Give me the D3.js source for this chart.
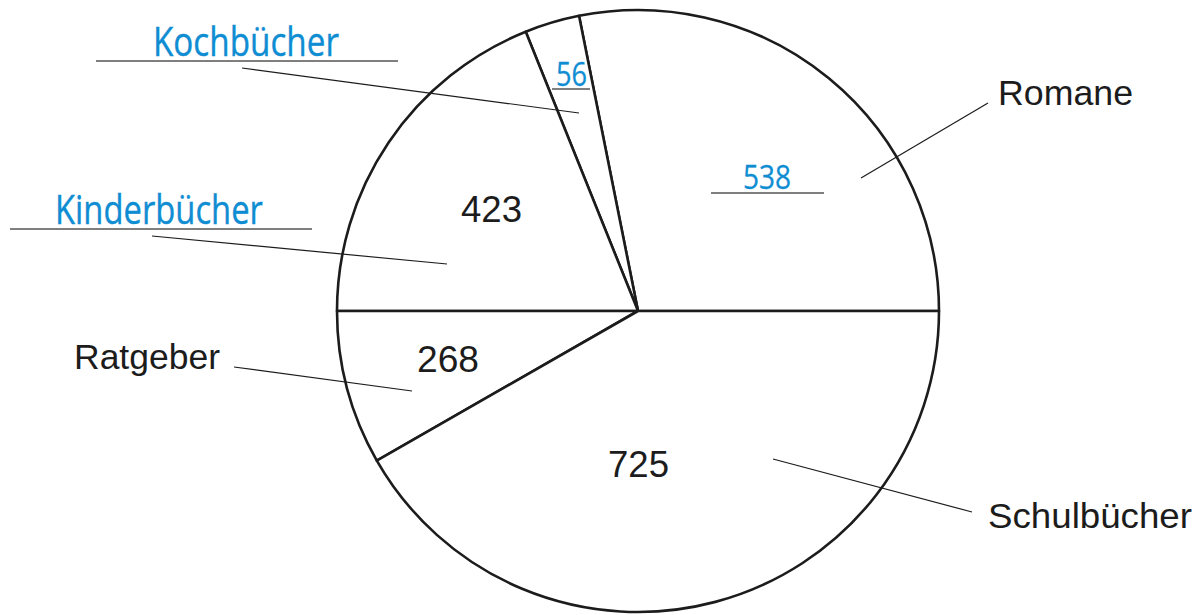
<!DOCTYPE html>
<html>
<head>
<meta charset="utf-8">
<script src="https://cdn.jsdelivr.net/npm/d3@7"></script>
<style>
  html, body { margin: 0; padding: 0; background: #fff; }
  svg { display: block; }
</style>
</head>
<body>
<div id="chart"></div>
<script>
// book categories, counter-clockwise from 3 o'clock
const categories = ["Romane", "Kochbücher", "Kinderbücher", "Ratgeber", "Schulbücher"];
const counts = [538, 56, 423, 268, 725];
// the slices in the picture are not drawn to scale, so the sweep (degrees) is read off the drawing
const sliceDegrees = [101.3, 10.6, 68.1, 29.8, 150.2];
// which texts are the "filled in" answers (blue, underlined)
const nameFilled = [false, true, true, false, false];
const countFilled = [true, true, false, false, false];

const width = 1202, height = 615;
const cx = 638, cy = 311, radius = 301;

const blue = "#0f8dd3";
const ink = "#1c1c1c";

// label layout (annotation positions, pixels)
const nameLayout = [
  { x: 998, y: 105, w: 135, line: [861, 178, 988, 103] },
  { x: 153, y: 56, w: 186, line: [242, 68, 579, 113], under: [96, 398, 61] },
  { x: 55, y: 224, w: 208, line: [152, 236, 447, 264], under: [10, 312, 229] },
  { x: 74, y: 369, w: 146, line: [234, 367, 412, 391] },
  { x: 988, y: 528, w: 204, line: [773, 459, 972, 512] }
];
const countLayout = [
  { x: 743, y: 189, w: 48, under: [711, 824, 193] },
  { x: 556, y: 86, w: 31, under: [552, 590, 89] },
  { x: 461, y: 222, w: 61 },
  { x: 417, y: 372, w: 62 },
  { x: 608, y: 477, w: 61 }
];

const rows = categories.map((c, i) => ({
  name: c, count: counts[i], deg: sliceDegrees[i],
  nameFilled: nameFilled[i], countFilled: countFilled[i]
}));

const svg = d3.select("#chart").append("svg")
  .attr("width", width)
  .attr("height", height);

// pie goes counter-clockwise starting at 3 o'clock
const pie = d3.pie()
  .value(d => d.deg)
  .sort(null)
  .startAngle(Math.PI / 2)
  .endAngle(Math.PI / 2 - 2 * Math.PI);

const arc = d3.arc().innerRadius(0).outerRadius(radius);

const g = svg.append("g").attr("transform", `translate(${cx},${cy})`);

g.selectAll("path.slice")
  .data(pie(rows))
  .join("path")
  .attr("class", "slice")
  .attr("d", arc)
  .attr("fill", "#fff")
  .attr("stroke", ink)
  .attr("stroke-width", 2.6)
  .attr("stroke-linejoin", "round");

// leader lines
svg.selectAll("line.leader")
  .data(nameLayout)
  .join("line")
  .attr("class", "leader")
  .attr("x1", d => d.line[0]).attr("y1", d => d.line[1])
  .attr("x2", d => d.line[2]).attr("y2", d => d.line[3])
  .attr("stroke", ink)
  .attr("stroke-width", 1.2);

// underlines for filled-in answers
const unders = nameLayout.filter(d => d.under).concat(countLayout.filter(d => d.under));
svg.selectAll("line.under")
  .data(unders)
  .join("line")
  .attr("class", "under")
  .attr("x1", d => d.under[0]).attr("x2", d => d.under[1])
  .attr("y1", d => d.under[2]).attr("y2", d => d.under[2])
  .attr("stroke", "#555")
  .attr("stroke-width", 1.5);

const printFont = "'Liberation Sans', Arial, sans-serif";
const handFont = "'Open Sans', 'Noto Sans', sans-serif";

svg.selectAll("text.name")
  .data(rows)
  .join("text")
  .attr("class", "name")
  .attr("x", (d, i) => nameLayout[i].x)
  .attr("y", (d, i) => nameLayout[i].y)
  .attr("textLength", (d, i) => nameLayout[i].w)
  .attr("lengthAdjust", "spacingAndGlyphs")
  .attr("font-family", d => d.nameFilled ? handFont : printFont)
  .attr("font-size", d => d.nameFilled ? 41 : 35)
  .attr("fill", d => d.nameFilled ? blue : ink)
  .attr("stroke", d => d.nameFilled ? blue : "none")
  .attr("stroke-width", 0.4)
  .text(d => d.name);

svg.selectAll("text.count")
  .data(rows)
  .join("text")
  .attr("class", "count")
  .attr("x", (d, i) => countLayout[i].x)
  .attr("y", (d, i) => countLayout[i].y)
  .attr("textLength", (d, i) => countLayout[i].w)
  .attr("lengthAdjust", "spacingAndGlyphs")
  .attr("font-family", d => d.countFilled ? handFont : printFont)
  .attr("font-size", d => d.countFilled ? 32 : 36)
  .attr("fill", d => d.countFilled ? blue : ink)
  .attr("stroke", d => d.countFilled ? blue : "none")
  .attr("stroke-width", 0.3)
  .text(d => d.count);
</script>
</body>
</html>
